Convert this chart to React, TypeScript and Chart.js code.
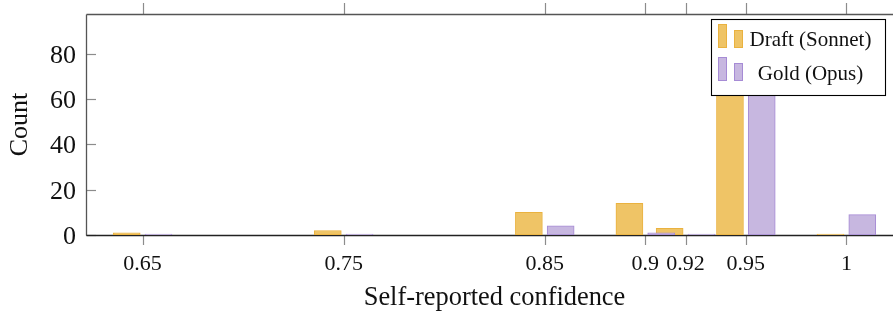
import React, { useEffect, useRef } from "react";
import { Chart, registerables } from "chart.js";

Chart.register(...registerables);

const confidence = [0.65, 0.75, 0.85, 0.9, 0.92, 0.95, 1];
const draftCounts = [1, 2, 10, 14, 3, 70, 0];
const goldCounts = [0, 0, 4, 1, 0, 86, 9];
const yTicks = [0, 20, 40, 60, 80];
const seriesLabels = ["Draft (Sonnet)", "Gold (Opus)"];

const FONT = "'Liberation Serif', 'Times New Roman', serif";
const DRAFT_FILL = "#EFC466";
const DRAFT_BORDER = "#EAB23F";
const GOLD_FILL = "#C7B7E0";
const GOLD_BORDER = "#A68BD5";
const BAR_SHIFT = 0.0079;

const framePlugin = {
  id: "frame",
  beforeDatasetsDraw(chart: any) {
    const { ctx, chartArea, scales } = chart;
    const { left, right, top, bottom } = chartArea;
    const x = scales.x;
    const y = scales.y;
    const line = (x1: number, y1: number, x2: number, y2: number) => {
      ctx.beginPath();
      ctx.moveTo(x1, y1);
      ctx.lineTo(x2, y2);
      ctx.stroke();
    };
    ctx.save();
    ctx.strokeStyle = "#8c8c8c";
    ctx.lineWidth = 1.2;
    x.ticks.forEach((t: any) => {
      const px = Math.round(x.getPixelForValue(t.value)) + 0.5;
      line(px, top - 11, px, top);
      line(px, bottom, px, bottom + 10);
    });
    y.ticks.forEach((t: any) => {
      const py = Math.round(y.getPixelForValue(t.value)) + 0.5;
      line(left, py, left + 10, py);
      line(right - 10, py, right, py);
    });
    ctx.strokeStyle = "#555";
    ctx.lineWidth = 1.3;
    const l = Math.round(left) + 0.5;
    const t0 = Math.round(top) + 0.5;
    const r = Math.round(right) + 0.5;
    const b = Math.round(bottom) + 0.5;
    line(l, t0, r, t0);
    line(l, t0, l, b);
    line(r, t0, r, b);
    ctx.strokeStyle = "#222";
    line(l, b, r, b);
    ctx.restore();
  },
};

const legendPlugin = {
  id: "boxLegend",
  afterDraw(chart: any) {
    const { ctx } = chart;
    const ds = chart.data.datasets;
    const bx = 711.5, by = 19.5, bw = 174, bh = 76;
    ctx.save();
    ctx.fillStyle = "#fff";
    ctx.fillRect(bx, by, bw, bh);
    ctx.strokeStyle = "#000";
    ctx.lineWidth = 1.1;
    ctx.strokeRect(bx, by, bw, bh);
    ds.forEach((d: any, i: number) => {
      const rowBottom = 48 + i * 33;
      ctx.fillStyle = d.backgroundColor;
      ctx.strokeStyle = d.borderColor;
      ctx.lineWidth = 1;
      ctx.fillRect(718, rowBottom - 24, 9, 24);
      ctx.strokeRect(718.5, rowBottom - 23.5, 8, 23);
      ctx.fillRect(734, rowBottom - 18, 9, 18);
      ctx.strokeRect(734.5, rowBottom - 17.5, 8, 17);
      ctx.fillStyle = "#111";
      ctx.font = `21px ${FONT}`;
      ctx.textAlign = "center";
      ctx.textBaseline = "alphabetic";
      ctx.fillText(d.label, 810.5, rowBottom - 2 + i * 1);
    });
    ctx.restore();
  },
};

export default function App() {
  const ref = useRef<HTMLCanvasElement | null>(null);

  useEffect(() => {
    document.body.style.margin = "0";
    if (!ref.current) return;
    const common = {
      borderWidth: 1,
      borderSkipped: false,
      grouped: false,
      barThickness: 27,
      minBarLength: 1,
    };
    const chart = new Chart(ref.current, {
      type: "bar",
      data: {
        datasets: [
          {
            ...common,
            label: seriesLabels[0],
            data: confidence.map((c, i) => ({ x: c - BAR_SHIFT, y: draftCounts[i] })),
            backgroundColor: DRAFT_FILL,
            borderColor: DRAFT_BORDER,
            order: 1,
          },
          {
            ...common,
            label: seriesLabels[1],
            data: confidence.map((c, i) => ({ x: c + BAR_SHIFT, y: goldCounts[i] })),
            backgroundColor: GOLD_FILL,
            borderColor: GOLD_BORDER,
            order: 0,
          },
        ] as any,
      },
      options: {
        responsive: false,
        maintainAspectRatio: false,
        animation: false,
        layout: { padding: { top: 14, right: 9, left: 0, bottom: 0 } },
        plugins: { legend: { display: false }, tooltip: { enabled: false } },
        scales: {
          x: {
            type: "linear",
            offset: false,
            min: 0.62185,
            max: 1.02815,
            grid: { display: false, drawTicks: false, offset: false },
            border: { display: false },
            afterBuildTicks: (s: any) => {
              s.ticks = confidence.map((v) => ({ value: v }));
            },
            afterFit: (s: any) => {
              s.height = 77;
              s.paddingLeft = 0;
              s.paddingRight = 0;
            },
            ticks: {
              font: { family: FONT, size: 22 },
              color: "#111",
              padding: 16,
              autoSkip: false,
              maxRotation: 0,
              callback: (v: any) => String(v),
            },
            title: {
              display: true,
              text: "Self-reported confidence",
              font: { family: FONT, size: 26.4, lineHeight: 1.0 },
              color: "#111",
              padding: { top: 0, bottom: 0.6 },
            },
          },
          y: {
            min: 0,
            max: 97.65,
            afterBuildTicks: (s: any) => {
              s.ticks = yTicks.map((v) => ({ value: v }));
            },
            afterFit: (s: any) => {
              s.width = 86;
              s.paddingTop = 0;
              s.paddingBottom = 0;
            },
            grid: { display: false, drawTicks: false },
            border: { display: false },
            ticks: {
              font: { family: FONT, size: 26 },
              color: "#111",
              padding: 10,
              labelOffset: 2,
            },
            title: {
              display: true,
              text: "Count",
              font: { family: FONT, size: 26 },
              color: "#111",
              padding: { top: 5, bottom: 0 },
            },
          },
        },
      } as any,
      plugins: [framePlugin, legendPlugin],
    });
    return () => chart.destroy();
  }, []);

  return (
    <div style={{ width: 893, height: 312, overflow: "hidden", position: "relative", background: "#fff" }}>
      <canvas ref={ref} width={912} height={312} style={{ width: 912, height: 312, display: "block" }} />
    </div>
  );
}
